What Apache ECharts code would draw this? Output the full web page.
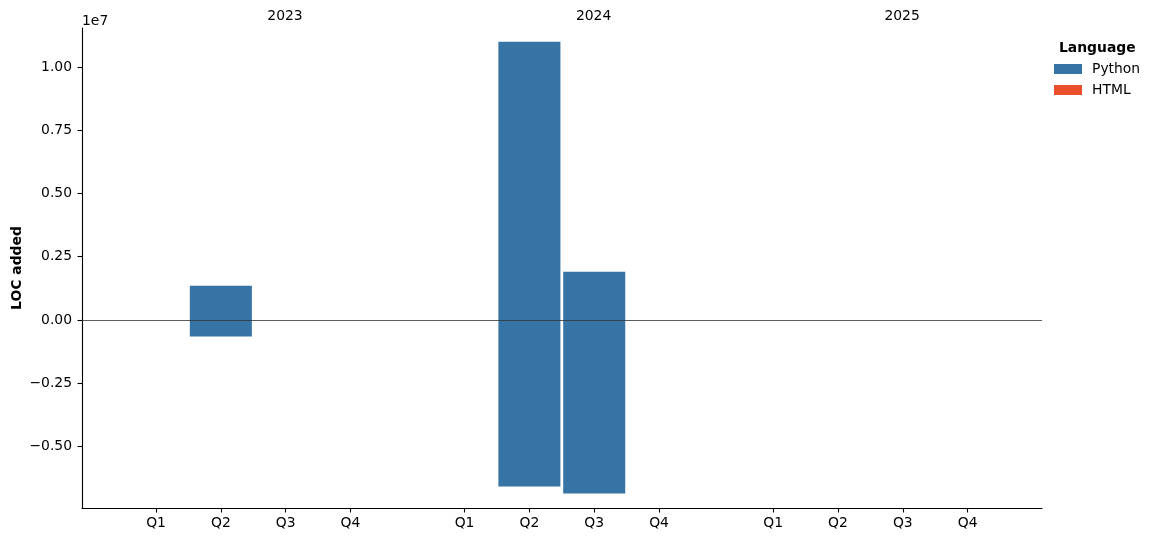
<!DOCTYPE html>
<html>
<head>
<meta charset="utf-8">
<script src="https://cdn.jsdelivr.net/npm/echarts@6/dist/echarts.min.js"></script>
<style>html,body{margin:0;padding:0;background:#fff}#c{width:1156px;height:542px}</style>
</head>
<body>
<div id="c"></div>
<script>
const years = ['2023', '2024', '2025'];
const quarters = ['Q1', 'Q2', 'Q3', 'Q4'];
// one entry per year/quarter, in order 2023 Q1 .. 2025 Q4
const pythonAdded   = [0, 1356000, 0, 0, 0, 11000000, 1909000, 0, 0, 0, 0, 0];
const pythonDeleted = [0, -648000, 0, 0, 0, -6577000, -6854000, 0, 0, 0, 0, 0];
const htmlAdded     = [0, 0, 0, 0, 0, 0, 0, 0, 0, 0, 0, 0];
const htmlDeleted   = [0, 0, 0, 0, 0, 0, 0, 0, 0, 0, 0, 0];
const yTicks = [-5000000, -2500000, 0, 2500000, 5000000, 7500000, 10000000];

const yearStride = 4.76;
const barW = 0.957;
const pos = [];
const posLabel = {};
years.forEach((y, yi) => quarters.forEach((q, qi) => {
  const p = +(yi * yearStride + qi).toFixed(3);
  pos.push(p);
  posLabel[p] = q;
}));
const yearPos = years.map((y, yi) => +(yi * yearStride + 1.99).toFixed(3));
const yearLabel = {};
yearPos.forEach((p, i) => yearLabel[p] = years[i]);

const FONT = 'DejaVu Sans';
const FS = 13.9;
const PY = '#3574a5', HT = '#ea502c';

function buildData(add, del, baseAdd, baseDel) {
  return pos.map((p, i) => {
    const ba = baseAdd ? baseAdd[i] : 0;
    const bd = baseDel ? baseDel[i] : 0;
    return [p, ba, ba + add[i], bd, bd + del[i]];
  });
}
function renderBar(params, api) {
  const x = api.value(0);
  const rects = [];
  [[1, 2], [3, 4]].forEach(([a, b]) => {
    const v0 = api.value(a), v1 = api.value(b);
    if (v0 === v1) return;
    const p0 = api.coord([x - barW / 2, Math.max(v0, v1)]);
    const p1 = api.coord([x + barW / 2, Math.min(v0, v1)]);
    rects.push({
      type: 'rect',
      shape: { x: p0[0], y: p0[1], width: p1[0] - p0[0], height: p1[1] - p0[1] },
      style: { fill: api.visual('color'), stroke: null, lineWidth: 0 }
    });
  });
  return { type: 'group', children: rects };
}

const chart = echarts.init(document.getElementById('c'), null, { renderer: 'canvas' });
chart.setOption({
  animation: false,
  backgroundColor: '#fff',
  textStyle: { fontFamily: FONT },
  title: [
    { text: '1e7', left: 77, top: 9, textStyle: { fontFamily: FONT, fontSize: FS, fontWeight: 'normal', color: '#000' } },
    { text: 'Language', left: 1054, top: 36, textStyle: { fontFamily: FONT, fontSize: FS, fontWeight: 'bold', color: '#000' } }
  ],
  legend: {
    orient: 'vertical', left: 1049, top: 57, itemWidth: 28, itemHeight: 10, itemGap: 7,
    textStyle: { fontFamily: FONT, fontSize: FS, color: '#000', padding: [0, 0, 0, 5] },
    data: [{ name: 'Python', icon: 'rect' }, { name: 'HTML', icon: 'rect' }]
  },
  grid: { left: 82, right: 114, top: 28, bottom: 34, outerBoundsMode: 'none', containLabel: false },
  xAxis: [{
    type: 'value', min: -1.142, max: 13.668, position: 'bottom',
    axisLine: { show: true, onZero: false, lineStyle: { color: '#000', width: 1.1 } },
    axisTick: { show: true, length: 4.5, customValues: pos, lineStyle: { color: '#000', width: 1.1 } },
    axisLabel: { customValues: pos, margin: 8, fontFamily: FONT, fontSize: FS, color: '#000',
      formatter: v => posLabel[+v.toFixed(3)] || '' },
    splitLine: { show: false }
  }, {
    type: 'value', min: -1.142, max: 13.668, position: 'top',
    axisLine: { show: false }, axisTick: { show: false },
    axisLabel: { customValues: yearPos, margin: 5, fontFamily: FONT, fontSize: FS, color: '#000',
      formatter: v => yearLabel[+v.toFixed(3)] || '' },
    splitLine: { show: false }
  }],
  yAxis: {
    type: 'value', min: -7430000, max: 11540000,
    name: 'LOC added', nameLocation: 'middle', nameGap: 58, nameRotate: 90, nameMoveOverlap: false,
    nameTextStyle: { fontFamily: FONT, fontSize: FS, fontWeight: 'bold', color: '#000' },
    axisLine: { show: true, onZero: false, lineStyle: { color: '#000', width: 1.1 } },
    axisTick: { show: true, length: 4.5, customValues: yTicks, lineStyle: { color: '#000', width: 1.1 } },
    axisLabel: { customValues: yTicks, margin: 10, fontFamily: FONT, fontSize: FS, color: '#000',
      formatter: v => { const s = (Math.abs(v) / 1e7).toFixed(2); return v < 0 ? '\u2212' + s : s; } },
    splitLine: { show: false }
  },
  series: [{
    name: 'Python', type: 'custom', xAxisIndex: 0, itemStyle: { color: PY },
    encode: { x: 0, y: [1, 2, 3, 4] },
    data: buildData(pythonAdded, pythonDeleted), renderItem: renderBar,
    markLine: { silent: true, symbol: 'none', label: { show: false },
      lineStyle: { color: '#333', width: 0.8, type: 'solid' }, data: [{ yAxis: 0 }] },
    z: 2
  }, {
    name: 'HTML', type: 'custom', xAxisIndex: 0, itemStyle: { color: HT },
    encode: { x: 0, y: [1, 2, 3, 4] },
    data: buildData(htmlAdded, htmlDeleted, pythonAdded, pythonDeleted), renderItem: renderBar,
    z: 2
  }]
});
</script>
</body>
</html>
